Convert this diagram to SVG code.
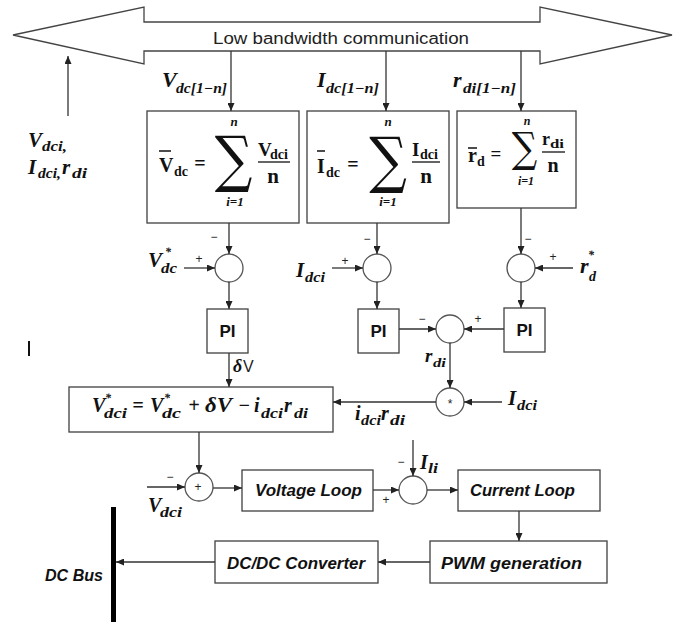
<svg xmlns="http://www.w3.org/2000/svg" width="679" height="622" viewBox="0 0 679 622">
<style>
.ln{stroke:#333;stroke-width:1.3;fill:none}
.bx{fill:#fff;stroke:#404040;stroke-width:1.3}
.cr{fill:#fff;stroke:#555;stroke-width:1.3}
.m{font-family:"Liberation Serif",serif;font-weight:bold;font-style:italic;fill:#111}
.u{font-family:"Liberation Serif",serif;font-weight:bold;fill:#111}
.s{font-family:"Liberation Sans",sans-serif;fill:#222}
.bi{font-family:"Liberation Sans",sans-serif;font-weight:bold;font-style:italic;fill:#111;font-size:16px}
.pi{font-family:"Liberation Sans",sans-serif;font-weight:bold;fill:#111;font-size:17px;text-anchor:middle}
.sg{font-family:"Liberation Sans",sans-serif;fill:#222;font-size:12px;text-anchor:middle}
.sig{font-family:"DejaVu Serif",serif;fill:#111;text-anchor:middle}
</style>
<defs>
<marker id="ah" markerUnits="userSpaceOnUse" markerWidth="8" markerHeight="7" refX="8" refY="3.5" orient="auto">
<path d="M0,0 L8,3.5 L0,7 z" fill="#222"/>
</marker>
</defs>

<g id="comm">
<polygon points="13,35 144,7 144,22 540,22 540,7 672,35 540,64 540,51 144,51 144,64" fill="#fff" stroke="#444" stroke-width="1.3"/>
<text class="s" x="213" y="44" font-size="16" textLength="256" lengthAdjust="spacingAndGlyphs">Low bandwidth communication</text>
</g>

<g id="labels-top">
<text class="m" x="162" y="87" font-size="22">V</text>
<text class="m" x="176" y="93" font-size="14" textLength="51" lengthAdjust="spacingAndGlyphs">dc[1−n]</text>
<text class="m" x="317" y="87" font-size="22">I</text>
<text class="m" x="326" y="93" font-size="14" textLength="53" lengthAdjust="spacingAndGlyphs">dc[1−n]</text>
<text class="m" x="453" y="87" font-size="22">r</text>
<text class="m" x="463" y="93" font-size="14" textLength="53" lengthAdjust="spacingAndGlyphs">di[1−n]</text>
<text class="m" x="28" y="147" font-size="21">V</text>
<text class="m" x="42" y="151" font-size="14" textLength="25" lengthAdjust="spacingAndGlyphs">dci,</text>
<text class="m" x="28" y="174" font-size="21">I</text>
<text class="m" x="38" y="178" font-size="14" textLength="23" lengthAdjust="spacingAndGlyphs">dci,</text>
<text class="m" x="62" y="174" font-size="21">r</text>
<text class="m" x="72" y="178" font-size="14" textLength="15" lengthAdjust="spacingAndGlyphs">di</text>
</g>

<g id="avgV">
<rect class="bx" x="147" y="111" width="152" height="112"/>
<text class="u" x="159" y="172" font-size="20">V</text>
<line x1="159" y1="151" x2="171" y2="151" stroke="#111" stroke-width="1.5"/>
<text class="u" x="174" y="176" font-size="14" textLength="14" lengthAdjust="spacingAndGlyphs">dc</text>
<text class="u" x="200" y="170" font-size="20" text-anchor="middle">=</text>
<text class="sig" x="233.5" y="180" font-size="62" transform="translate(233.5 0) scale(0.85 1) translate(-233.5 0)">∑</text>
<text class="m" x="234" y="126" font-size="13" text-anchor="middle">n</text>
<text class="m" x="235" y="206" font-size="13" text-anchor="middle">i=1</text>
<text class="u" x="258" y="156" font-size="19">V</text>
<text class="u" x="270" y="159" font-size="14" textLength="18" lengthAdjust="spacingAndGlyphs">dci</text>
<line x1="258" y1="162" x2="290" y2="162" stroke="#111" stroke-width="1.3"/>
<text class="u" x="273" y="183" font-size="21" text-anchor="middle">n</text>
</g>

<g id="avgI">
<rect class="bx" x="307" y="111" width="142" height="112"/>
<text class="u" x="317" y="173" font-size="20">I</text>
<line x1="317" y1="151" x2="325" y2="151" stroke="#111" stroke-width="1.5"/>
<text class="u" x="326" y="177" font-size="14" textLength="14" lengthAdjust="spacingAndGlyphs">dc</text>
<text class="u" x="353" y="171" font-size="20" text-anchor="middle">=</text>
<text class="sig" x="388" y="181" font-size="62" transform="translate(388 0) scale(0.85 1) translate(-388 0)">∑</text>
<text class="m" x="388" y="126" font-size="13" text-anchor="middle">n</text>
<text class="m" x="388" y="206" font-size="13" text-anchor="middle">i=1</text>
<text class="u" x="412" y="156" font-size="19">I</text>
<text class="u" x="420" y="159" font-size="14" textLength="18" lengthAdjust="spacingAndGlyphs">dci</text>
<line x1="412" y1="162" x2="440" y2="162" stroke="#111" stroke-width="1.3"/>
<text class="u" x="426" y="183" font-size="21" text-anchor="middle">n</text>
</g>

<g id="avgR">
<rect class="bx" x="457" y="111" width="119" height="97"/>
<text class="u" x="468" y="162" font-size="20">r</text>
<line x1="468" y1="148" x2="477" y2="148" stroke="#111" stroke-width="1.5"/>
<text class="u" x="477" y="166" font-size="14">d</text>
<text class="u" x="496" y="160" font-size="19" text-anchor="middle">=</text>
<text class="sig" x="524.5" y="162" font-size="42" transform="translate(524.5 0) scale(0.85 1) translate(-524.5 0)">∑</text>
<text class="m" x="527" y="125" font-size="12" text-anchor="middle">n</text>
<text class="m" x="526" y="185" font-size="12" text-anchor="middle">i=1</text>
<text class="u" x="542" y="145" font-size="18">r</text>
<text class="u" x="550" y="148" font-size="13" textLength="14" lengthAdjust="spacingAndGlyphs">di</text>
<line x1="542" y1="152" x2="565" y2="152" stroke="#111" stroke-width="1.3"/>
<text class="u" x="553" y="172" font-size="20" text-anchor="middle">n</text>
</g>

<g id="sum1">
<circle class="cr" cx="229" cy="268" r="14"/>
<text class="sg" x="214" y="241">−</text>
<text class="sg" x="199" y="263">+</text>
<text class="m" x="148" y="267" font-size="21">V</text>
<text class="m" x="165" y="256" font-size="12">*</text>
<text class="m" x="161" y="273" font-size="14" textLength="16" lengthAdjust="spacingAndGlyphs">dc</text>
</g>
<g id="sum2">
<circle class="cr" cx="377" cy="268" r="14"/>
<text class="sg" x="367" y="243">−</text>
<text class="sg" x="345" y="265">+</text>
<text class="m" x="296" y="277" font-size="21">I</text>
<text class="m" x="305" y="282" font-size="14" textLength="20" lengthAdjust="spacingAndGlyphs">dci</text>
</g>
<g id="sum3">
<circle class="cr" cx="521" cy="268" r="14"/>
<text class="sg" x="528" y="243">−</text>
<text class="sg" x="553" y="261">+</text>
<text class="m" x="580" y="273" font-size="22">r</text>
<text class="m" x="588" y="259" font-size="12">*</text>
<text class="m" x="589" y="281" font-size="14">d</text>
</g>

<g id="pi1"><rect class="bx" x="207" y="309" width="41" height="44"/><text class="pi" x="227.5" y="337">PI</text></g>
<g id="pi2"><rect class="bx" x="358" y="309" width="41" height="44"/><text class="pi" x="378.5" y="337">PI</text></g>
<g id="pi3"><rect class="bx" x="504" y="308" width="41" height="44"/><text class="pi" x="524.5" y="336">PI</text></g>

<g id="sum-r">
<circle class="cr" cx="450" cy="329" r="14"/>
<text class="sg" x="422" y="323">−</text>
<text class="sg" x="478" y="323">+</text>
<text class="m" x="425" y="362" font-size="19">r</text>
<text class="m" x="433" y="367" font-size="13" textLength="13" lengthAdjust="spacingAndGlyphs">di</text>
</g>

<g id="mult">
<circle class="cr" cx="450" cy="402" r="14"/>
<text class="sg" x="450" y="408">*</text>
<text class="m" x="508" y="405" font-size="21">I</text>
<text class="m" x="517" y="410" font-size="14" textLength="20" lengthAdjust="spacingAndGlyphs">dci</text>
<text class="m" x="355" y="420" font-size="20">i</text>
<text class="m" x="361" y="425" font-size="14" textLength="20" lengthAdjust="spacingAndGlyphs">dci</text>
<text class="m" x="381" y="420" font-size="20">r</text>
<text class="m" x="390" y="425" font-size="14" textLength="15" lengthAdjust="spacingAndGlyphs">di</text>
</g>

<g id="vref">
<rect class="bx" x="69" y="387" width="264" height="45"/>
<text class="m" x="92" y="412" font-size="20">V</text>
<text class="m" x="105" y="402" font-size="12">*</text>
<text class="m" x="104" y="418" font-size="14" textLength="23" lengthAdjust="spacingAndGlyphs">dci</text>
<text class="m" x="138" y="412" font-size="20" text-anchor="middle">=</text>
<text class="m" x="150" y="412" font-size="20">V</text>
<text class="m" x="164" y="402" font-size="12">*</text>
<text class="m" x="162" y="418" font-size="14" textLength="19" lengthAdjust="spacingAndGlyphs">dc</text>
<text class="m" x="194" y="412" font-size="20" text-anchor="middle">+</text>
<text class="m" x="205" y="412" font-size="20" textLength="27" lengthAdjust="spacingAndGlyphs">δV</text>
<text class="m" x="244" y="412" font-size="20" text-anchor="middle">−</text>
<text class="m" x="254" y="412" font-size="20">i</text>
<text class="m" x="261" y="418" font-size="14" textLength="22" lengthAdjust="spacingAndGlyphs">dci</text>
<text class="m" x="284" y="412" font-size="20">r</text>
<text class="m" x="294" y="418" font-size="14" textLength="14" lengthAdjust="spacingAndGlyphs">di</text>
</g>

<g id="sum4">
<circle class="cr" cx="199" cy="487" r="14"/>
<text class="sg" x="198" y="491">+</text>
<text class="sg" x="170" y="481">−</text>
<text class="m" x="148" y="512" font-size="20">V</text>
<text class="m" x="160" y="517" font-size="14" textLength="22" lengthAdjust="spacingAndGlyphs">dci</text>
</g>

<g id="vloop"><rect class="bx" x="242" y="470" width="131" height="41"/><text class="bi" x="255" y="496" textLength="107" lengthAdjust="spacingAndGlyphs">Voltage Loop</text></g>

<g id="sum5">
<circle class="cr" cx="413" cy="490" r="14"/>
<text class="sg" x="386" y="504">+</text>
<text class="sg" x="401" y="466">−</text>
<text class="m" x="420" y="469" font-size="20">I</text>
<text class="m" x="428" y="473" font-size="14" textLength="10" lengthAdjust="spacingAndGlyphs">li</text>
</g>

<g id="cloop"><rect class="bx" x="458" y="470" width="142" height="41"/><text class="bi" x="470" y="496" textLength="105" lengthAdjust="spacingAndGlyphs">Current Loop</text></g>
<g id="pwm"><rect class="bx" x="430" y="541" width="177" height="42"/><text class="bi" x="441" y="569" textLength="141" lengthAdjust="spacingAndGlyphs">PWM generation</text></g>
<g id="dcdc"><rect class="bx" x="215" y="541" width="163" height="42"/><text class="bi" x="227" y="569" textLength="138" lengthAdjust="spacingAndGlyphs">DC/DC Converter</text></g>
<g id="dcbus">
<rect x="111" y="507" width="5" height="115" fill="#000"/>
<text class="bi" x="45" y="581" textLength="58" lengthAdjust="spacingAndGlyphs">DC Bus</text>
</g>
<g id="mark"><rect x="28" y="341" width="2" height="15" fill="#111"/></g>

<g id="connectors" class="ln" marker-end="url(#ah)">
<line x1="68" y1="116" x2="68" y2="56"/>
<line x1="231" y1="51" x2="231" y2="111"/>
<line x1="386" y1="51" x2="386" y2="111"/>
<line x1="521" y1="51" x2="521" y2="111"/>
<line x1="229" y1="223" x2="229" y2="254"/>
<line x1="184" y1="268" x2="215" y2="268"/>
<line x1="229" y1="282" x2="229" y2="309"/>
<line x1="229" y1="353" x2="229" y2="387"/>
<line x1="377" y1="223" x2="377" y2="254"/>
<line x1="332" y1="268" x2="363" y2="268"/>
<line x1="377" y1="282" x2="377" y2="309"/>
<line x1="521" y1="208" x2="521" y2="254"/>
<line x1="573" y1="268" x2="535" y2="268"/>
<line x1="521" y1="282" x2="521" y2="308"/>
<line x1="399" y1="329" x2="436" y2="329"/>
<line x1="504" y1="329" x2="464" y2="329"/>
<line x1="450" y1="343" x2="450" y2="388"/>
<line x1="502" y1="402" x2="464" y2="402"/>
<line x1="436" y1="402" x2="333" y2="402"/>
<line x1="199" y1="432" x2="199" y2="473"/>
<line x1="147" y1="487" x2="185" y2="487"/>
<line x1="213" y1="488" x2="242" y2="488"/>
<line x1="373" y1="490" x2="399" y2="490"/>
<line x1="413" y1="440" x2="413" y2="476"/>
<line x1="427" y1="490" x2="458" y2="490"/>
<line x1="519" y1="511" x2="519" y2="541"/>
<line x1="430" y1="562" x2="378" y2="562"/>
<line x1="215" y1="562" x2="116" y2="562"/>
</g>
<g id="dv-label">
<text class="m" x="233" y="372" font-size="18">δ</text>
<text class="s" x="243" y="372" font-size="16">V</text>
</g>
</svg>
